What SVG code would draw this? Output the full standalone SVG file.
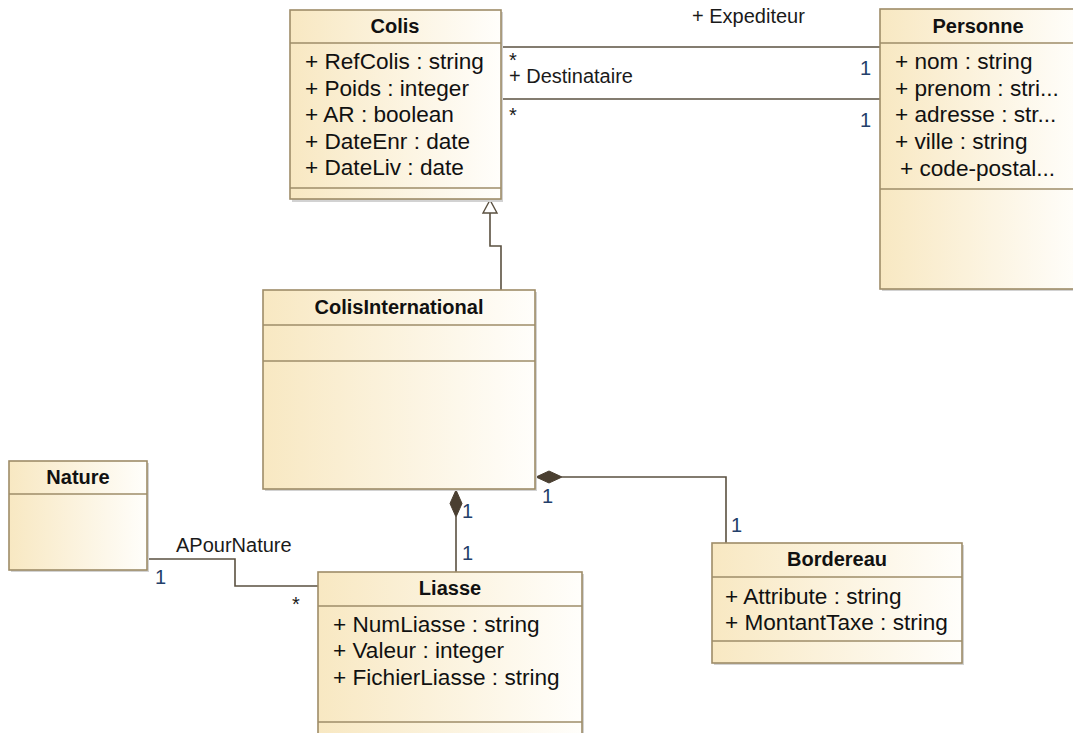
<svg xmlns="http://www.w3.org/2000/svg" width="1073" height="733" viewBox="0 0 1073 733">
<defs>
<linearGradient id="fill" x1="0" y1="0" x2="1" y2="0">
<stop offset="0" stop-color="#f8e8c2"/>
<stop offset="1" stop-color="#fffefb"/>
</linearGradient>
<style>
.box{fill:url(#fill);stroke:#9e8c68;stroke-width:1.6}
.shadow{fill:#d2d2d2}
.div{stroke:#9e8c68;stroke-width:1.6}
.title{font-family:"Liberation Sans",Arial,sans-serif;font-weight:bold;font-size:20px;fill:#111;text-anchor:middle}
.attr{font-family:"Liberation Sans",Arial,sans-serif;font-size:22.6px;fill:#111}
.lbl{font-family:"Liberation Sans",Arial,sans-serif;font-size:20px;fill:#1a1a1a}
.mult{font-family:"Liberation Sans",Arial,sans-serif;font-size:20px;fill:#23406a}
.conn{fill:none;stroke:#5a5040;stroke-width:1.6}
</style>
</defs>
<rect width="1073" height="733" fill="#ffffff"/>

<g id="connectors">
<line class="conn" x1="501" y1="47" x2="880" y2="47"/>
<line class="conn" x1="501" y1="99" x2="880" y2="99"/>
<polyline class="conn" points="501,290 501,246 490,246 490,213"/>
<polygon points="490,200 483,213 497,213" fill="#ffffff" stroke="#5a5040" stroke-width="1.4"/>
<polyline class="conn" points="147,559 235,559 235,586 319,586"/>
<line class="conn" x1="456" y1="517" x2="456" y2="572"/>
<polygon points="456,490 462,503.5 456,517 450,503.5" fill="#4a3f31" stroke="#4a3f31" stroke-width="1"/>
<polyline class="conn" points="562,477 726,477 726,543"/>
<polygon points="536,477 549,471 562,477 549,483" fill="#4a3f31" stroke="#4a3f31" stroke-width="1"/>
<text class="lbl" x="692" y="23">+ Expediteur</text>
<text class="lbl" x="509" y="67">*</text>
<text class="lbl" x="509" y="83">+ Destinataire</text>
<text class="mult" x="860" y="75">1</text>
<text class="lbl" x="509" y="122">*</text>
<text class="mult" x="860" y="127">1</text>
<text class="lbl" x="176" y="552">APourNature</text>
<text class="mult" x="155" y="584">1</text>
<text class="lbl" x="292" y="611">*</text>
<text class="mult" x="462" y="518">1</text>
<text class="mult" x="462" y="560">1</text>
<text class="mult" x="542" y="503">1</text>
<text class="mult" x="731" y="532">1</text>
</g>

<g id="Colis">
<rect class="shadow" x="292" y="12" width="211" height="190"/>
<rect class="box" x="290" y="10" width="211" height="189"/>
<line class="div" x1="290" y1="43" x2="501" y2="43"/>
<line class="div" x1="290" y1="188" x2="501" y2="188"/>
<text class="title" x="395" y="33">Colis</text>
<text class="attr" x="305" y="69">+ RefColis : string</text>
<text class="attr" x="305" y="96">+ Poids : integer</text>
<text class="attr" x="305" y="122">+ AR : boolean</text>
<text class="attr" x="305" y="149">+ DateEnr : date</text>
<text class="attr" x="305" y="175">+ DateLiv : date</text>
</g>

<g id="Personne">
<rect class="shadow" x="882" y="11" width="200" height="280"/>
<rect class="box" x="880" y="9" width="200" height="280"/>
<line class="div" x1="880" y1="43" x2="1080" y2="43"/>
<line class="div" x1="880" y1="189" x2="1080" y2="189"/>
<text class="title" x="978" y="33">Personne</text>
<text class="attr" x="895" y="69">+ nom : string</text>
<text class="attr" x="895" y="96">+ prenom : stri...</text>
<text class="attr" x="895" y="122">+ adresse : str...</text>
<text class="attr" x="895" y="149">+ ville : string</text>
<text class="attr" x="900" y="176">+ code-postal...</text>
</g>

<g id="ColisInternational">
<rect class="shadow" x="265" y="292" width="272" height="199"/>
<rect class="box" x="263" y="290" width="272" height="199"/>
<line class="div" x1="263" y1="325" x2="535" y2="325"/>
<line class="div" x1="263" y1="361" x2="535" y2="361"/>
<text class="title" x="399" y="314">ColisInternational</text>
</g>

<g id="Nature">
<rect class="shadow" x="11" y="463" width="138" height="109"/>
<rect class="box" x="9" y="461" width="138" height="109"/>
<line class="div" x1="9" y1="494" x2="147" y2="494"/>
<text class="title" x="78" y="484">Nature</text>
</g>

<g id="Liasse">
<rect class="shadow" x="320" y="574" width="264" height="170"/>
<rect class="box" x="318" y="572" width="264" height="170"/>
<line class="div" x1="318" y1="606" x2="582" y2="606"/>
<line class="div" x1="318" y1="722" x2="582" y2="722"/>
<text class="title" x="450" y="595">Liasse</text>
<text class="attr" x="333" y="632">+ NumLiasse : string</text>
<text class="attr" x="333" y="658">+ Valeur : integer</text>
<text class="attr" x="333" y="685">+ FichierLiasse : string</text>
</g>

<g id="Bordereau">
<rect class="shadow" x="714" y="545" width="250" height="120"/>
<rect class="box" x="712" y="543" width="250" height="120"/>
<line class="div" x1="712" y1="577" x2="962" y2="577"/>
<line class="div" x1="712" y1="641" x2="962" y2="641"/>
<text class="title" x="837" y="566">Bordereau</text>
<text class="attr" x="725" y="604">+ Attribute : string</text>
<text class="attr" x="725" y="630">+ MontantTaxe : string</text>
</g>
</svg>
